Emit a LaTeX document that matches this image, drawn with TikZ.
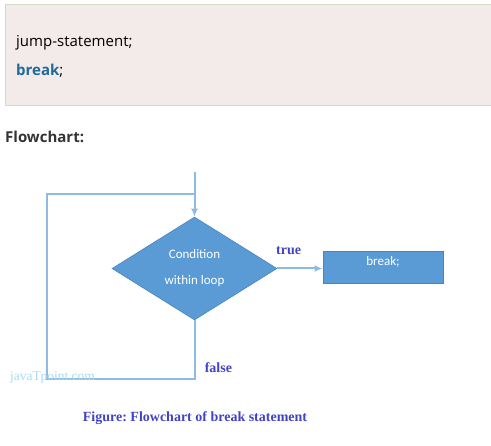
\documentclass[tikz,border=0pt]{standalone}
\usepackage{fontspec}
\setmainfont{Open Sans}
\newfontfamily\capfont{Liberation Serif}
\newfontfamily\shapefont{Carlito}
\usetikzlibrary{arrows.meta, shapes, positioning}

\definecolor{codebg}{HTML}{F3EAEA}
\definecolor{codeedge}{HTML}{D5D9C6}
\definecolor{keyword}{HTML}{1D6A9B}
\definecolor{headcol}{HTML}{333333}
\definecolor{shapecol}{HTML}{5B9BD5}
\definecolor{shapeedge}{HTML}{4A84BC}
\definecolor{linecol}{HTML}{8FBBE3}
\definecolor{labelcol}{HTML}{4242C8}
\definecolor{markcol}{HTML}{A6DCEF}

\begin{document}
\begin{tikzpicture}[x=1pt, y=-1pt, >={Latex[length=8pt,width=7pt]},
	flow/.style={draw=linecol, line width=2pt},
	decision/.style={diamond, aspect=1.6, fill=shapecol, draw=shapeedge, line width=0.6pt, minimum width=165pt, minimum height=103pt, inner sep=0pt, text=white, align=center, font=\shapefont\fontsize{13}{26}\selectfont},
	process/.style={rectangle, fill=shapecol, draw=shapeedge, line width=0.8pt, minimum width=120pt, minimum height=32pt, text=white, text depth=12pt, font=\shapefont\fontsize{13}{15}\selectfont},
	tag/.style={text=labelcol, font=\capfont\bfseries\fontsize{14}{16}\selectfont}]
		\useasboundingbox (0,0) rectangle (491,446);
		
		% code box
		\draw[fill=codebg, draw=codeedge, line width=1pt] (5,5) rectangle (496,106);
		\node[anchor=base west, inner sep=0pt, font=\fontsize{15}{17}\selectfont] (jump) at (16,47) {jump-statement;};
		\node[anchor=base west, inner sep=0pt, font=\fontsize{15}{17}\selectfont] (brkkey) at (16,76) {\textcolor{keyword}{\textbf{break}};};
		\node[anchor=base west, inner sep=0pt, text=headcol, font=\bfseries\fontsize{15}{17}\selectfont] (head) at (5,143) {Flowchart:};
		
		% flowchart
		\coordinate (top) at (194.5,172);
		\node[decision] (cond) at (194.5,268.5) {Condition\\within loop};
		\node[process] (brk) at (383,267) {break;};
		\coordinate (loopbot) at (47,379);
		\coordinate (looptop) at (47,194.5);
		\coordinate (join) at (194.5,194.5);
		
		\draw[flow, ->] (top) -- (cond.north);
		\draw[flow, ->] (cond.east) -- node[tag, pos=0.25, above, yshift=9pt] (true) {true} (cond.east -| brk.west);
		\draw[flow] (cond.south) |- node[tag, pos=0.4, right, xshift=6pt] (false) {false} (loopbot) -- (looptop) -- (join);
		
		% watermark and caption
		\node[anchor=base west, inner sep=0pt, text=markcol, font=\capfont\fontsize{13.4}{15}\selectfont] (mark) at (10,381) {javaTpoint.com};
		\node[tag, anchor=base, inner sep=0pt] (caption) at (195,422) {\frenchspacing Figure: Flowchart of break statement};
\end{tikzpicture}
\end{document}
